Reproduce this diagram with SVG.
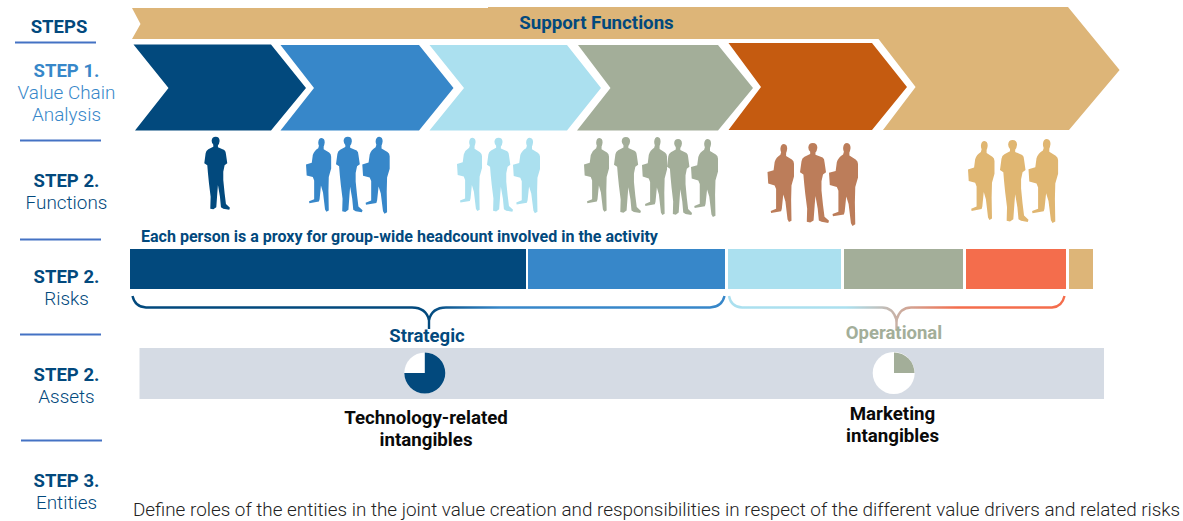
<svg xmlns="http://www.w3.org/2000/svg" width="1183" height="521" viewBox="0 0 1183 521">
<style>
text{font-family:Roboto,"Liberation Sans",sans-serif}
.h{font-weight:700;font-size:18.5px;text-anchor:middle;fill:#02497d}
.s{font-weight:300;font-size:18.9px;text-anchor:middle;fill:#02497d}
.l{fill:#4472c4}
.b{font-weight:700;font-size:18.7px;text-anchor:middle;fill:#0a0a0a}
.dk{fill:#02497d}.bl{fill:#3787c9}.lt{fill:#abe0ef}.gr{fill:#a3ae99}.or{fill:#c55b10}.tn{fill:#ddb578}
.brace{fill:none;stroke-width:2.4}
</style>
<defs>
<path id="pf" d="M22 12Q23 0 34 0Q46 0 46 13Q45 22 41 26L41 32L60 40Q65 44 65 52L69 80L61 86L57 105L57 130L61 170L65 202L77 213L75 219L57 216L50 212L47 180L41 145L39 170L36 212L27 218L18 216L19 180L14 140L11 110L9 86L0 80L4 50Q5 42 12 38L27 30L27 24Q22 18 22 12Z"/>
<path id="pb" d="M36 13Q37 0 46 0Q55 1 55 13Q54 21 52 25L52 33L68 43Q74 47 74 55L74 90L67 115L66 155L67 213L60 217L56 210L50 160L44 140L40 180L38 187L10 192L9 186L24 180L24 125L20 115L2 110L0 78L17 73L20 50Q24 37 36 30L38 23Q36 18 36 13Z"/>
<linearGradient id="g1" gradientUnits="userSpaceOnUse" x1="132" y1="0" x2="725" y2="0"><stop offset="0" stop-color="#02497d"/><stop offset=".5" stop-color="#02497d"/><stop offset=".62" stop-color="#3787c9"/><stop offset="1" stop-color="#3787c9"/></linearGradient>
<linearGradient id="g2" gradientUnits="userSpaceOnUse" x1="729" y1="0" x2="1065" y2="0"><stop offset="0" stop-color="#abe0ef"/><stop offset=".35" stop-color="#abe0ef"/><stop offset=".5" stop-color="#c9b1a5"/><stop offset=".68" stop-color="#f46d4c"/><stop offset="1" stop-color="#f46d4c"/></linearGradient>
</defs>

<g id="step-labels">
<text class="h" x="59" y="32.500">STEPS</text>
<rect class="l" x="15" y="41.500" width="81" height="2"/>
<text class="h" x="66.500" y="77" style="fill:#3787c9">STEP 1.</text>
<text class="s" x="66.500" y="99" style="fill:#3787c9">Value Chain</text>
<text class="s" x="66.500" y="121" style="fill:#3787c9">Analysis</text>
<rect class="l" x="20" y="139.500" width="81" height="2"/>
<text class="h" x="66.500" y="187">STEP 2.</text>
<text class="s" x="66.500" y="209">Functions</text>
<rect class="l" x="20" y="238.500" width="81" height="2"/>
<text class="h" x="66.500" y="283">STEP 2.</text>
<text class="s" x="66.500" y="305">Risks</text>
<rect class="l" x="20" y="333.500" width="81" height="2"/>
<text class="h" x="66.500" y="381">STEP 2.</text>
<text class="s" x="66.500" y="403">Assets</text>
<rect class="l" x="21" y="439.500" width="81" height="2"/>
<text class="h" x="66.500" y="487">STEP 3.</text>
<text class="s" x="66.500" y="509">Entities</text>
</g>

<g id="support-functions">
<path class="tn" d="M132 8L488 8L488 7L1068 7L1119.600 70L1069 130L883 130L915.600 87L878.500 39L132 39L140.500 24Z"/>
<text x="596.500" y="29" style="font-weight:700;font-size:18.700px;text-anchor:middle;fill:#02497d">Support Functions</text>
</g>
<g id="chain-1"><path class="dk" d="M133.500 44.500L271 44.500L306 88L271 130.500L135 130.500L168.500 88Z"/></g>
<g id="chain-2"><path class="bl" d="M280.500 45L419 45L453.500 88L419 130.500L280.500 130.500L314 88Z"/></g>
<g id="chain-3"><path class="lt" d="M429.500 45L567 45L601 88L567 130.500L429.500 130.500L464 88Z"/></g>
<g id="chain-4"><path class="gr" d="M578 45L718 45L753 88L718 130.500L577 130.500L610.500 88Z"/></g>
<g id="chain-5"><path class="or" d="M728.500 43L872 43L907 87L872 130L728.500 130L761 87Z"/></g>

<g id="people-1" class="dk">
<use href="#pf" transform="translate(204.300 136.700) scale(.333)"/>
</g>
<g id="people-2" class="bl">
<use href="#pb" transform="translate(306 138) scale(.34)"/>
<use href="#pf" transform="translate(336 136.700) scale(.345)"/>
<use href="#pb" transform="translate(362.300 136.700) scale(.37 .355)"/>
</g>
<g id="people-3" class="lt">
<use href="#pb" transform="translate(457 137.700) scale(.338)"/>
<use href="#pf" transform="translate(487 137.700) scale(.338)"/>
<use href="#pb" transform="translate(513 137.700) scale(.365 .348)"/>
</g>
<g id="people-4" class="gr">
<use href="#pb" transform="translate(584 138) scale(.338 .34)"/>
<use href="#pf" transform="translate(614 137) scale(.35 .347)"/>
<use href="#pb" transform="translate(642 137) scale(.338 .36)"/>
<use href="#pf" transform="translate(667 139) scale(.325 .347)"/>
<use href="#pb" transform="translate(691 139) scale(.365 .36)"/>
</g>
<g id="people-5" style="fill:#bc7d5a">
<use href="#pb" transform="translate(767.500 144) scale(.358 .36)"/>
<use href="#pf" transform="translate(800 143) scale(.377 .365)"/>
<use href="#pb" transform="translate(829 143) scale(.392 .382)"/>
</g>
<g id="people-6" style="fill:#e0b671">
<use href="#pb" transform="translate(968 141) scale(.358 .364)"/>
<use href="#pf" transform="translate(1000 140) scale(.37 .374)"/>
<use href="#pb" transform="translate(1028.500 139) scale(.4 .387)"/>
</g>

<text id="proxy-note" x="141" y="242" style="font-weight:700;font-size:16.050px;fill:#02497d">Each person is a proxy for group-wide headcount involved in the activity</text>

<g id="risk-bars">
<rect class="dk" x="130" y="249" width="396" height="40"/>
<rect class="bl" x="528" y="249" width="197" height="40"/>
<rect class="lt" x="728" y="249" width="113" height="40"/>
<rect class="gr" x="844" y="249" width="119" height="40"/>
<rect x="966" y="249" width="100" height="40" fill="#f46d4c"/>
<rect class="tn" x="1069" y="249" width="24" height="40"/>
</g>

<g id="connectors">
<path class="brace" stroke="url(#g1)" d="M132.500 296Q135 307 146 307.500L412 307.500Q426 307.500 429 320Q432 307.500 446 307.500L710 307.500Q722 307 724.500 296"/>
<path class="brace" stroke="#02497d" d="M429 316L429 329"/>
<path class="brace" stroke="url(#g2)" d="M729 296Q731 307 742 307.500L882 307.500Q893 307.500 896.500 320Q900 307.500 911 307.500L1052 307.500Q1062 307 1064.500 296"/>
<path class="brace" stroke="#c9b1a5" d="M896.500 316L896.500 329"/>
</g>

<g id="strategic"><text x="427" y="342" style="font-weight:700;font-size:18.500px;text-anchor:middle;fill:#02497d">Strategic</text></g>
<g id="operational"><text x="894" y="339" style="font-weight:700;font-size:18.500px;text-anchor:middle;fill:#a3ae99">Operational</text></g>

<rect id="asset-band" x="139.500" y="348" width="964.500" height="51" fill="#d5dbe4"/>

<g id="pie-technology">
<circle cx="424.800" cy="373" r="20.500" fill="#fff"/>
<path class="dk" d="M424.800 373L424.800 352.500A20.500 20.500 0 1 1 404.300 373Z"/>
<text class="b" x="426" y="424">Technology-related</text>
<text class="b" x="426" y="446">intangibles</text>
</g>
<g id="pie-marketing">
<circle cx="893.700" cy="373" r="21" fill="#fff"/>
<path class="gr" d="M894 373L894 352.500A20.500 20.500 0 0 1 914.500 373Z"/>
<text class="b" x="892.500" y="420">Marketing</text>
<text class="b" x="892.500" y="442">intangibles</text>
</g>

<text id="entities-note" x="133" y="516" style="font-weight:300;font-size:18.880px;fill:#222">Define roles of the entities in the joint value creation and responsibilities in respect of the different value drivers and related risks</text>
</svg>
